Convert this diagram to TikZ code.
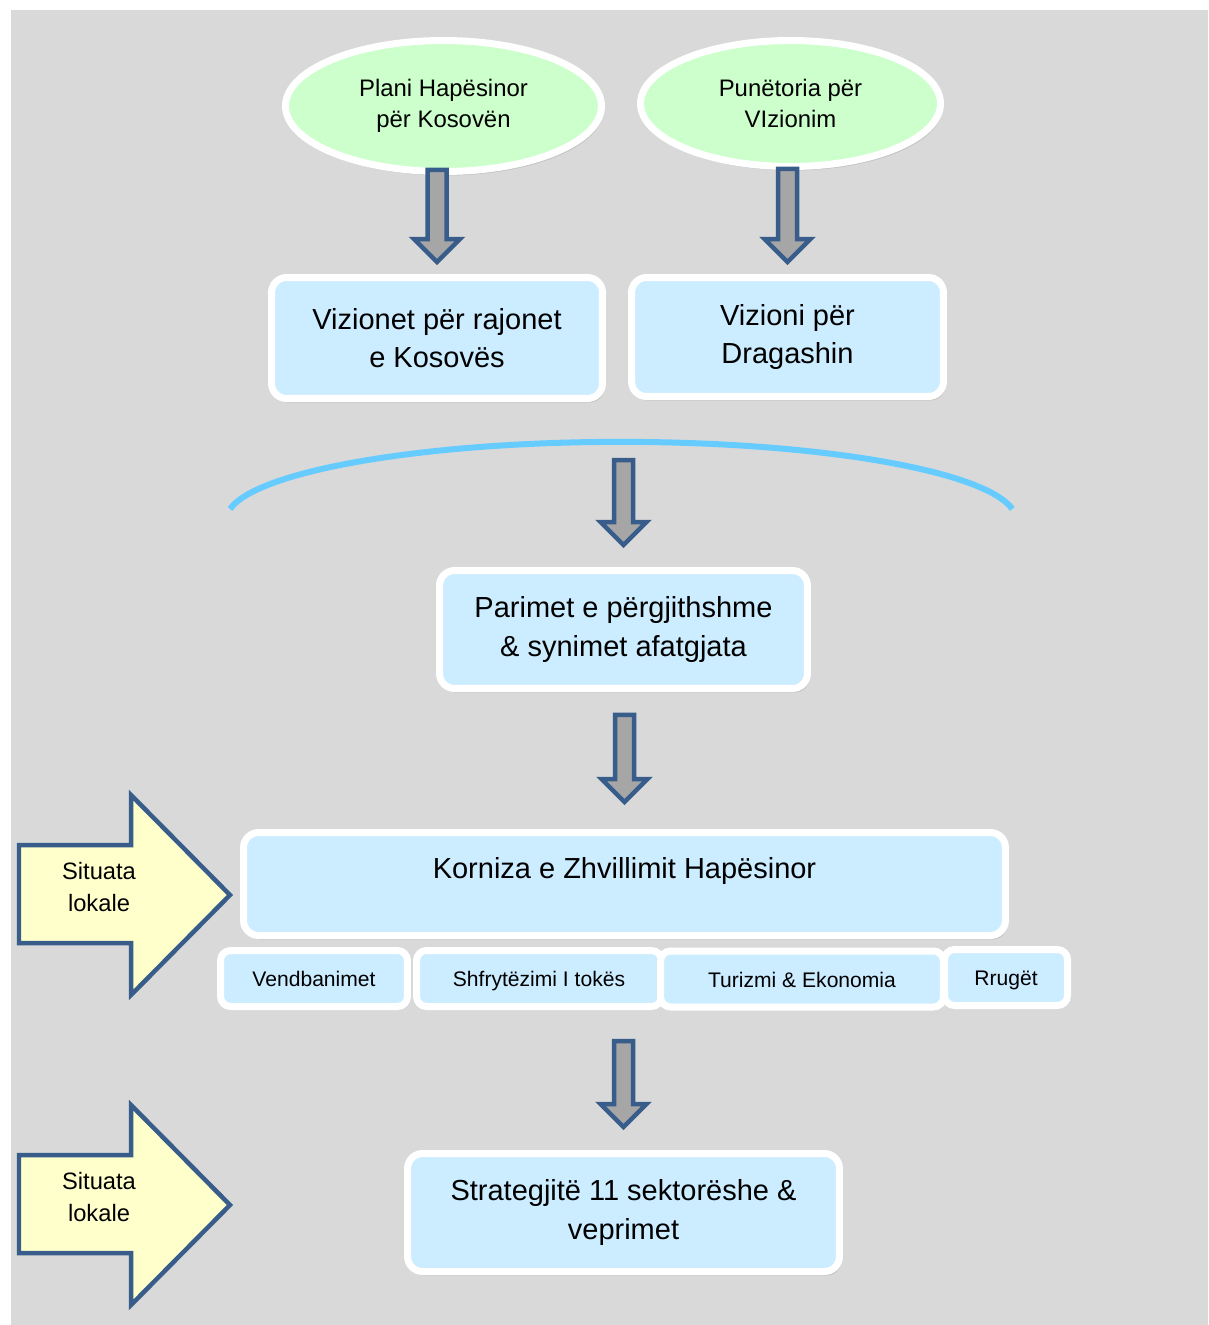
\documentclass[tikz,border=0pt]{standalone}
\usepackage{fontspec}
\setmainfont{Liberation Sans}
\usetikzlibrary{shapes.geometric, shadows, calc}
\definecolor{bggray}{RGB}{217, 217, 217}
\definecolor{boxblue}{RGB}{204, 236, 255}
\definecolor{ovalgreen}{RGB}{204, 255, 204}
\definecolor{arrowblue}{RGB}{56, 93, 138}
\definecolor{arrowgray}{RGB}{166, 166, 166}
\definecolor{notecream}{RGB}{255, 255, 204}
\definecolor{arcblue}{RGB}{102, 204, 255}

\tikzset{
  oval/.style={ellipse, draw=white, line width=0.14cm, fill=ovalgreen, inner sep=0pt, align=center,
    font=\fontsize{13.6}{18}\selectfont, drop shadow={opacity=0.25, shadow xshift=0.04cm, shadow yshift=-0.08cm}},
  bigbox/.style={rectangle, rounded corners=0.3cm, draw=white, line width=0.14cm, fill=boxblue, inner sep=0pt,
    align=center, font=\fontsize{16.5}{22}\selectfont, drop shadow={opacity=0.25, shadow xshift=0.04cm, shadow yshift=-0.08cm}},
  subbox/.style={rectangle, rounded corners=0.2cm, draw=white, line width=0.14cm, fill=boxblue, inner sep=0pt,
    text height=0.72cm, text depth=0.4cm, font=\fontsize{12}{14}\selectfont,
    drop shadow={opacity=0.2, shadow xshift=0.03cm, shadow yshift=-0.06cm}},
  blkarrow/.style={draw=arrowblue, fill=arrowgray, line width=0.09cm, line join=miter},
  localarrow/.style={draw=arrowblue, fill=notecream, line width=0.09cm, line join=miter},
  localtext/.style={align=center, font=\fontsize{13.5}{18}\selectfont},
}

% block arrow: from #1 down to #2, gaps #3 (top) and #4 (bottom)
\newcommand{\blkdown}[4]{%
  \draw[blkarrow] let \p1=(#1), \p2=(#2) in
    (\x2-0.19cm,{\y1-(#3)}) -- (\x2+0.19cm,{\y1-(#3)}) -- (\x2+0.19cm,{\y2+(#4)+0.46cm})
    -- (\x2+0.46cm,{\y2+(#4)+0.46cm}) -- (\x2,{\y2+(#4)}) -- (\x2-0.46cm,{\y2+(#4)+0.46cm})
    -- (\x2-0.19cm,{\y2+(#4)+0.46cm}) -- cycle;}

\begin{document}
\begin{tikzpicture}[x=0.02cm, y=-0.02cm]
  \useasboundingbox (0,0) rectangle (1208,1325);
  \fill[bggray] (11,10) rectangle (1208,1325);

  % sources
  \node[oval, minimum width=6.32cm, minimum height=2.62cm] (plani) at (443.5,106) {Plani Hapësinor\\për Kosovën};
  \node[oval, minimum width=6.0cm, minimum height=2.52cm] (punetoria) at (790.5,103.5) {Punëtoria për\\VIzionim};

  % visions
  \node[bigbox, minimum width=6.62cm, minimum height=2.42cm] (rajonet) at (437,338) {Vizionet për rajonet\\e Kosovës};
  \node[bigbox, minimum width=6.24cm, minimum height=2.38cm] (dragash) at (787.5,337) {Vizioni për\\Dragashin};

  % bracket over both visions
  \draw[arcblue, line width=0.12cm] (230,509) arc[start angle=188, end angle=352, x radius=395, y radius=78];
  \coordinate (arctop) at (621,442);

  % principles
  \node[bigbox, minimum width=7.36cm, minimum height=2.36cm] (parimet) at (623.5,629.5) {Parimet e përgjithshme\\\& synimet afatgjata};

  % local situation
  \draw[localarrow] (19,845) -- (131,845) -- (131,795) -- (230,895) -- (131,995) -- (131,943) -- (19,943) -- cycle;
  \node[localtext] (lokale1) at (99,887) {Situata\\lokale};
  \draw[localarrow] (19,1155) -- (131,1155) -- (131,1105) -- (230,1205) -- (131,1305) -- (131,1253) -- (19,1253) -- cycle;
  \node[localtext] (lokale2) at (99,1197) {Situata\\lokale};

  % framework
  \node[bigbox, minimum width=15.24cm, text height=0.91cm, text depth=1.15cm] (korniza) at (624.5,884) {Korniza e Zhvillimit Hapësinor};
  \node[subbox, minimum width=3.74cm] (vendb) at (314,978.5) {Vendbanimet};
  \node[subbox, minimum width=4.9cm] (shfryt) at (539,978.5) {Shfrytëzimi I tokës};
  \node[subbox, minimum width=5.66cm] (turizmi) at (802,979) {Turizmi \& Ekonomia};
  \node[subbox, minimum width=2.46cm] (rruget) at (1006,977.5) {Rrugët};

  % strategies
  \node[bigbox, minimum width=8.64cm, minimum height=2.36cm] (strateg) at (623.5,1212.5) {Strategjitë 11 sektorëshe \&\\veprimet};

  % arrows
  \blkdown{plani.south}{rajonet.north}{-0.1cm}{0.24cm}
  \blkdown{punetoria.south}{dragash.north}{-0.02cm}{0.24cm}
  \blkdown{arctop}{parimet.north}{0.36cm}{0.44cm}
  \blkdown{parimet.south}{korniza.north}{0.46cm}{0.54cm}
  \blkdown{vendb.south}{strateg.north}{0.62cm}{0.46cm}
\end{tikzpicture}
\end{document}
